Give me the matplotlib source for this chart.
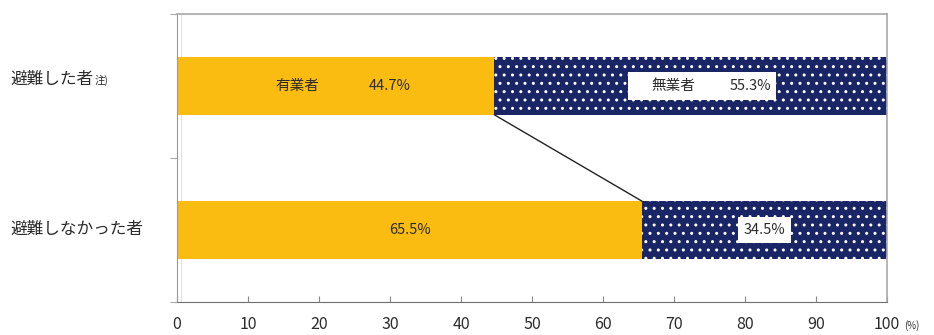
import matplotlib.pyplot as plt
from matplotlib.patches import Rectangle

plt.rcParams['font.family'] = ['Noto Sans CJK JP', 'DejaVu Sans']

# 避難の有無別 有業者・無業者の割合
groups = ['避難した者', '避難しなかった者']
employed = [44.7, 65.5]
unemployed = [55.3, 34.5]
xticks = [0, 10, 20, 30, 40, 50, 60, 70, 80, 90, 100]

yellow = '#FBBC12'
navy = '#1A2566'
txt = '#2b2b2b'

fig = plt.figure(figsize=(9.34, 3.35), dpi=100)
ax = fig.add_axes([177 / 934, 1 - 302 / 335, 710 / 934, 288 / 335])

ypos = [0, 1]
h = 0.4
ax.barh(ypos, employed, height=h, color=yellow, edgecolor='none')
ax.barh(ypos, unemployed, left=employed, height=h, color=navy,
        edgecolor='white', linewidth=0, hatch='..')

# 区分線
ax.plot([employed[0], employed[1]], [0 + h / 2, 1 - h / 2], color='#222222', lw=1)
ax.plot([100, 100], [0 + h / 2, 1 - h / 2], color='#222222', lw=1)

ax.set_xlim(0, 100)
ax.set_ylim(1.5, -0.5)

# 枠
for s in ['top', 'right']:
    ax.spines[s].set_color('#aaaaaa')
    ax.spines[s].set_linewidth(1.2)
ax.spines['left'].set_color('#9a9a9a')
ax.spines['bottom'].set_color('#707070')
ax.add_patch(Rectangle((0.6, -0.5), 99.4, 2.0, fill=False, edgecolor='#e0e0e0',
                       lw=0.8, zorder=0.5))

ax.set_xticks(xticks)
ax.set_xticklabels([str(v) for v in xticks], fontsize=11.5, color=txt)
ax.tick_params(axis='x', direction='in', length=4, pad=10, color='#888888')
ax.set_yticks([-0.5, 0.5, 1.5])
ax.set_yticklabels([])
ax.tick_params(axis='y', direction='out', length=5, color='#aaaaaa')
fig.text(904 / 934, 1 - 326 / 335, '(%)', fontsize=7, color=txt, va='center')

# 分類ラベル
fig.text(10 / 934, 1 - 79 / 335, groups[0], fontsize=12, color=txt, va='center')
fig.text(95 / 934, 1 - 80 / 335, '注)', fontsize=7.5, color=txt, va='center')
fig.text(10 / 934, 1 - 229 / 335, groups[1], fontsize=12, color=txt, va='center')

# 値ラベル
ax.text(16.9, 0, '有業者', fontsize=10.5, color=txt, ha='center', va='center')
ax.text(29.9, 0, f'{employed[0]}%', fontsize=10.5, color=txt, ha='center', va='center')
ax.add_patch(Rectangle((63.5, -0.095), 20.9, 0.19, facecolor='white',
                       edgecolor='none', zorder=3))
ax.text(69.9, 0, '無業者', fontsize=10.5, color=txt, ha='center', va='center', zorder=4)
ax.text(80.8, 0, f'{unemployed[0]}%', fontsize=10.5, color=txt, ha='center',
        va='center', zorder=4)
ax.text(employed[1] / 2, 1, f'{employed[1]}%', fontsize=10.5, color=txt,
        ha='center', va='center')
ax.text(employed[1] + unemployed[1] / 2, 1, f'{unemployed[1]}%', fontsize=10.5,
        color=txt, ha='center', va='center',
        bbox=dict(facecolor='white', edgecolor='none', pad=4))

fig.savefig('out.png', dpi=100)
